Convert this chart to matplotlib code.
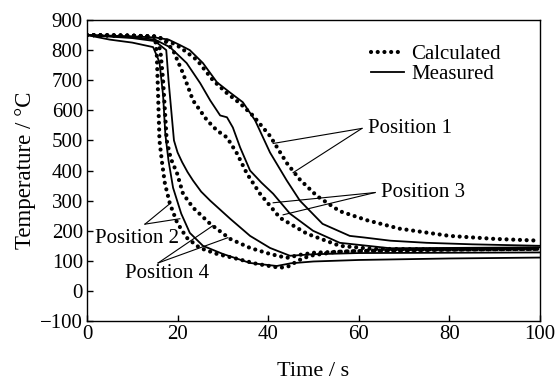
import matplotlib
matplotlib.use("Agg")
import matplotlib.pyplot as plt
from matplotlib.lines import Line2D

plt.rcParams['font.family'] = ['Liberation Serif', 'DejaVu Serif']

# Position 1
p1_calc_t = [0, 10, 15.4, 18, 20.5, 24.3, 27.8, 30.9, 33.8, 36.6, 40.4, 44.1, 47, 50.8, 55.8, 61.8, 69, 80, 90, 100]
p1_calc_T = [850, 848, 845, 830, 810, 767, 700, 657, 623, 583, 515, 425, 370, 315, 265, 235, 207, 183, 173, 167]
p1_meas_t = [0, 5, 10, 15, 18, 20.5, 22.7, 25.6, 28.7, 31.5, 34.4, 37.1, 40.4, 44.1, 47, 52, 58, 61, 67, 75, 85, 100]
p1_meas_T = [850, 848, 846, 842, 835, 817, 800, 757, 693, 660, 627, 567, 460, 367, 300, 223, 183, 178, 167, 160, 155, 150]

# Position 3
p3_calc_t = [0, 10, 15, 17, 19, 21.2, 23.4, 26.5, 28.7, 30.9, 33.1, 35.3, 38.2, 42.6, 48.6, 55.8, 63, 80, 100]
p3_calc_T = [850, 848, 845, 835, 800, 723, 633, 567, 533, 510, 457, 390, 323, 243, 190, 150, 140, 138, 140]
p3_meas_t = [0, 10, 15, 18.3, 22, 25, 27.2, 29.4, 30.9, 32.2, 33.8, 36, 38.5, 41.1, 44.8, 49.9, 55.8, 66.9, 80, 100]
p3_meas_T = [850, 843, 835, 810, 757, 690, 633, 583, 577, 543, 477, 400, 360, 323, 257, 200, 160, 142, 143, 145]

# Position 2
p2_calc_t = [0, 10, 15, 15.4, 15.7, 16.0, 16.6, 17.2, 18.3, 19.9, 22, 24.9, 28.7, 33.1, 37.5, 42.6, 44.8, 46.4, 49.2, 55, 65, 80, 100]
p2_calc_T = [850, 848, 845, 790, 650, 500, 423, 357, 290, 227, 177, 143, 123, 107, 90, 77, 83, 100, 117, 130, 135, 138, 140]
p2_meas_t = [0, 5, 10, 14.6, 16, 16.8, 17.3, 18.0, 19.0, 20.8, 22.7, 25.6, 30, 36, 41.9, 45, 50, 60, 80, 100]
p2_meas_T = [850, 835, 825, 810, 760, 650, 520, 433, 343, 257, 193, 150, 123, 93, 83, 92, 98, 103, 108, 111]

# Position 4
p4_calc_t = [0, 10, 15, 16.2, 16.8, 17.6, 18.5, 19.9, 21.2, 23.4, 27.2, 31.6, 36, 40.4, 44.1, 47, 50, 60, 80, 100]
p4_calc_T = [850, 848, 845, 800, 700, 500, 440, 390, 323, 277, 223, 173, 143, 123, 110, 120, 127, 133, 137, 140]
p4_meas_t = [0, 10, 15, 17.5, 18, 18.6, 19.2, 20, 21, 22.2, 23.4, 25.2, 27.2, 31.6, 36, 40.4, 44.8, 50, 60, 80, 100]
p4_meas_T = [850, 840, 830, 800, 700, 600, 500, 460, 428, 395, 367, 330, 300, 240, 183, 143, 117, 122, 126, 127, 128]

x_ticks = [0, 20, 40, 60, 80, 100]
y_ticks = [-100, 0, 100, 200, 300, 400, 500, 600, 700, 800, 900]

fig = plt.figure(figsize=(5.59, 3.85), dpi=100)
ax = fig.add_axes([0.1556, 0.166, 0.8104, 0.782])

dot_style = dict(color='black', linewidth=3.0, linestyle=(0, (0.01, 1.6)),
                 dash_capstyle='round')
line_style = dict(color='black', linewidth=1.3, linestyle='-')

for t, T in [(p1_calc_t, p1_calc_T), (p3_calc_t, p3_calc_T), (p2_calc_t, p2_calc_T), (p4_calc_t, p4_calc_T)]:
    ax.plot(t, T, **dot_style)
for t, T in [(p1_meas_t, p1_meas_T), (p3_meas_t, p3_meas_T), (p2_meas_t, p2_meas_T), (p4_meas_t, p4_meas_T)]:
    ax.plot(t, T, **line_style)

h1 = Line2D([], [], **dot_style)
h2 = Line2D([], [], **line_style)
ax.legend([h1, h2], ['Calculated', 'Measured'], loc='upper left', frameon=False,
          fontsize=15, handlelength=1.6, handletextpad=0.35, labelspacing=0.0,
          bbox_to_anchor=(0.626, 0.918), borderaxespad=0, borderpad=0)

fs = 15
lw_ann = 0.8

# Position 1
ax.text(62, 540, 'Position 1', fontsize=fs, ha='left', va='center')
for (xt, yt) in [(41.1, 490), (45.5, 393)]:
    ax.plot([60.7, xt], [540, yt], color='black', lw=lw_ann)
# Position 3
ax.text(65, 327, 'Position 3', fontsize=fs, ha='left', va='center')
for (xt, yt) in [(41.1, 293), (43.3, 253)]:
    ax.plot([63.6, xt], [327, yt], color='black', lw=lw_ann)
# Position 2
ax.text(1.8, 173, 'Position 2', fontsize=fs, ha='left', va='center')
for (xt, yt) in [(18.3, 290), (20.5, 240)]:
    ax.plot([12.8, xt], [222, yt], color='black', lw=lw_ann)
# Position 4
ax.text(8.4, 57, 'Position 4', fontsize=fs, ha='left', va='center')
for (xt, yt) in [(27.8, 217), (31.1, 177)]:
    ax.plot([15.7, xt], [93, yt], color='black', lw=lw_ann)

ax.set_xlim(0, 100)
ax.set_ylim(-100, 900)
ax.set_xticks(x_ticks)
ax.set_yticks(y_ticks)
ax.set_yticklabels(['\u2212100' if v < 0 else str(v) for v in y_ticks])
ax.tick_params(direction='in', length=4, width=1, labelsize=15, top=False, right=False, pad=3)
for s in ax.spines.values():
    s.set_linewidth(1.0)

ax.set_xlabel('Time / s', fontsize=16, labelpad=13)
ax.set_ylabel('Temperature / \u00b0C', fontsize=16.5, labelpad=3)

fig.savefig('out.png', dpi=100)
